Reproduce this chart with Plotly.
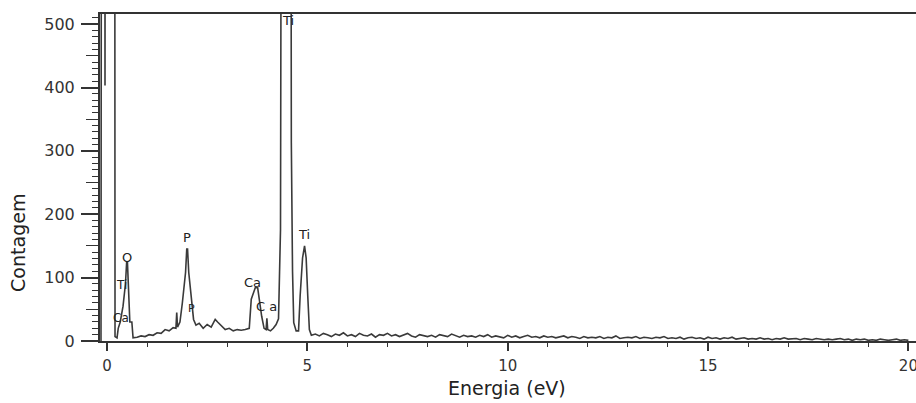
import numpy as np
import plotly.graph_objects as go

# EDS spectrum: energy (keV scale labelled eV) vs. counts
# low-energy part: noise peak, O, P, Ca and Ti lines
peak_energy = [
    -0.15, -0.12, -0.07, -0.05, -0.03, 0.18, 0.20, 0.25, 0.28, 0.33, 0.40, 0.46,
    0.49, 0.51, 0.53, 0.57, 0.62, 0.65, 0.75, 0.85, 0.95, 1.05, 1.15, 1.25, 1.35,
    1.45, 1.55, 1.65, 1.72, 1.74, 1.76, 1.82, 1.88, 1.92, 1.96, 1.99, 2.01, 2.04,
    2.08, 2.12, 2.16, 2.22, 2.30, 2.40, 2.50, 2.60, 2.70, 2.76, 2.85, 2.95, 3.05,
    3.15, 3.25, 3.35, 3.45, 3.55, 3.60, 3.70, 3.76, 3.80, 3.86, 3.92, 3.97, 3.99,
    4.01, 4.08, 4.15, 4.22, 4.28, 4.33, 4.40, 4.56, 4.60, 4.63, 4.66, 4.72, 4.78,
    4.82, 4.88, 4.93, 4.97, 5.01, 5.05,
]
peak_counts = [
    0, 2500, 2500, 403, 2500, 2500, 7, 5, 20, 30, 55, 90,
    124, 124, 96, 30, 30, 5, 6, 8, 7, 10, 9, 13, 12,
    18, 16, 21, 20, 45, 22, 30, 60, 87, 108, 145, 145, 108,
    82, 50, 34, 25, 28, 20, 26, 22, 34, 30, 24, 18, 20,
    16, 18, 17, 18, 20, 66, 84, 84, 63, 39, 20, 18, 36,
    18, 16, 20, 26, 35, 176, 2500, 2500, 313, 110, 29, 16, 16,
    71, 131, 150, 131, 71, 18,
]

# background counts from 5.1 to 20.0 in 0.1 steps
background_start = 5.1
background_step = 0.1
background_counts = [
    9, 11, 8, 12, 10, 7, 11, 9, 13, 8,
    10, 7, 12, 9, 8, 11, 6, 10, 9, 12,
    8, 10, 7, 9, 12, 8, 6, 10, 9, 7,
    9, 6, 10, 8, 7, 11, 8, 6, 9, 7,
    8, 6, 9, 7, 10, 6, 8, 7, 5, 9,
    6, 8, 5, 7, 9, 6, 7, 5, 8, 6,
    7, 5, 6, 8, 5, 7, 6, 4, 7, 5,
    6, 5, 7, 4, 6, 5, 8, 4, 5, 6,
    5, 7, 4, 6, 5, 4, 6, 5, 7, 4,
    5, 4, 6, 3, 5, 6, 4, 5, 3, 6,
    4, 5, 3, 5, 4, 6, 3, 4, 5, 3,
    4, 3, 5, 3, 4, 2, 4, 3, 5, 3,
    3, 4, 2, 4, 3, 2, 4, 3, 2, 3,
    2, 3, 4, 2, 3, 1, 3, 2, 3, 1,
    2, 1, 3, 2, 1, 2, 3, 1, 2, 1,
]
background_energy = list(np.round(background_start + background_step * np.arange(len(background_counts)), 2))

energy = peak_energy + background_energy
counts = peak_counts + background_counts

# element labels: (text, energy, counts, font size)
labels = [
    ("O", 0.50, 132, 13),
    ("Ti", 0.36, 88, 12),
    ("Ca", 0.36, 37, 12),
    ("P", 1.99, 163, 13),
    ("P", 2.10, 51, 11),
    ("Ca", 3.62, 92, 13),
    ("C a", 3.98, 54, 13),
    ("Ti", 4.92, 168, 13),
    ("Ti", 4.52, 506, 13),
]

x_range = [-0.175, 20.19]
y_range = [0, 516]
font_family = "DejaVu Sans"
ink = "#333333"

# tick positions: fine comb on the main axes, longer marks on overlay axes
x_fine = list(range(0, 21))
x_major = [0, 5, 10, 15, 20]
y_fine = list(range(0, 520, 10))
y_mid = [50, 150, 250, 350, 450]
y_major = [0, 100, 200, 300, 400, 500]

x_fine_text = [str(v) if v in x_major else "" for v in x_fine]
y_fine_text = [str(v) if v in y_major else "" for v in y_fine]

fig = go.Figure()
fig.add_trace(go.Scatter(
    x=energy, y=counts, mode="lines",
    line=dict(color="#3a3a3a", width=1.6),
    hoverinfo="skip", showlegend=False,
))
# empty traces that tie the overlay tick axes into the figure
for xa, ya in [("x", "y2"), ("x", "y3"), ("x2", "y")]:
    fig.add_trace(go.Scatter(
        x=[0], y=[0], xaxis=xa, yaxis=ya, mode="lines",
        line=dict(width=0), hoverinfo="skip", showlegend=False,
    ))

for text, ex, cy, size in labels:
    fig.add_annotation(
        x=ex, y=cy, text=text, showarrow=False,
        font=dict(family=font_family, size=size, color="#222222"),
    )

fig.add_annotation(
    xref="paper", yref="paper", x=-0.1005, y=0.30, text="Contagem",
    textangle=-90, showarrow=False, xanchor="center", yanchor="middle",
    font=dict(family=font_family, size=19, color="#222222"),
)
fig.add_annotation(
    xref="paper", yref="paper", x=0.499, y=-0.145, text="Energia (eV)",
    showarrow=False, xanchor="center", yanchor="middle",
    font=dict(family=font_family, size=19, color="#222222"),
)

fig.update_layout(
    template="none",
    width=916, height=403,
    margin=dict(l=100, r=0, t=14, b=62),
    xaxis=dict(
        range=x_range, showgrid=False, zeroline=False,
        showline=True, linecolor=ink, linewidth=2, mirror=True,
        tickmode="array", tickvals=x_fine, ticktext=x_fine_text,
        ticks="outside", ticklen=4, tickwidth=1, tickcolor=ink,
        ticklabelstandoff=6,
        tickfont=dict(family=font_family, size=15, color=ink),
        ticklabeloverflow="allow",
    ),
    xaxis2=dict(
        range=x_range, overlaying="x", side="bottom", anchor="y",
        showgrid=False, zeroline=False, showline=False,
        tickmode="array", tickvals=x_major,
        ticks="outside", ticklen=9, tickwidth=1.5, tickcolor=ink,
        showticklabels=False,
    ),
    yaxis=dict(
        range=y_range, showgrid=False, zeroline=False,
        showline=True, linecolor=ink, linewidth=2,
        tickmode="array", tickvals=y_fine, ticktext=y_fine_text,
        ticks="outside", ticklen=6, tickwidth=1, tickcolor=ink,
        ticklabelstandoff=14,
        tickfont=dict(family=font_family, size=16, color=ink),
    ),
    yaxis2=dict(
        range=y_range, overlaying="y", side="left", anchor="x",
        showgrid=False, zeroline=False, showline=False,
        tickmode="array", tickvals=y_mid,
        ticks="outside", ticklen=13, tickwidth=1.3, tickcolor=ink,
        showticklabels=False,
    ),
    yaxis3=dict(
        range=y_range, overlaying="y", side="left", anchor="x",
        showgrid=False, zeroline=False, showline=False,
        tickmode="array", tickvals=y_major,
        ticks="outside", ticklen=18, tickwidth=1.5, tickcolor=ink,
        showticklabels=False,
    ),
)

fig.write_html("out.html")
